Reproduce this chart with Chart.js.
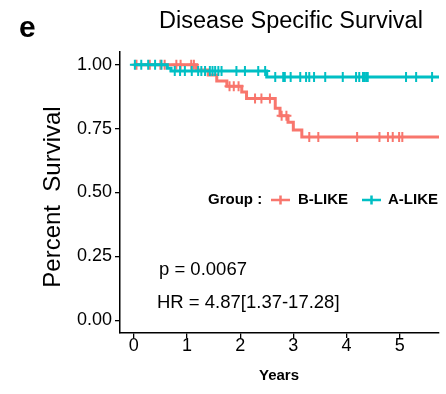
<!DOCTYPE html>
<html>
<head>
<meta charset="utf-8">
<script src="https://cdn.jsdelivr.net/npm/chart.js@4.4.0/dist/chart.umd.min.js"></script>
<style>
  html, body { margin: 0; padding: 0; background: #fff; }
  #wrap { width: 446px; height: 394px; position: relative; }
</style>
</head>
<body>
<div id="wrap"><canvas id="kmChart" width="446" height="394"></canvas></div>
<script>
// Kaplan-Meier steps (time in years, survival)
const bLikeTimes = [0, 1.18, 1.4, 1.56, 1.75, 2.03, 2.12, 2.66, 2.75, 2.9, 3.0, 3.16, 5.74];
const bLikeSurv  = [1, 0.98, 0.96, 0.936, 0.916, 0.893, 0.868, 0.83, 0.80, 0.775, 0.745, 0.717, 0.717];
const aLikeTimes = [0, 0.63, 0.7, 2.5, 5.74];
const aLikeSurv  = [1, 0.986, 0.976, 0.952, 0.952];

// censored observations (times)
const bLikeCensor = [0.05, 0.3, 0.5, 0.58, 0.8, 0.88, 1.08, 1.13, 1.8, 1.88, 1.97, 2.28, 2.4, 2.56,
    2.78, 2.87, 3.3, 3.47, 4.2, 4.62, 4.78, 4.87, 4.99, 5.05];
const aLikeCensor = [0.02, 0.14, 0.27, 0.40, 0.52, 0.77, 0.87, 0.96, 1.09, 1.21, 1.27, 1.34, 1.43,
    1.48, 1.53, 1.59, 1.65, 1.93, 2.09, 2.34, 2.47, 2.66, 2.81, 2.84, 2.95, 3.13, 3.24, 3.30, 3.39,
    3.60, 3.93, 4.18, 4.24, 4.31, 4.34, 4.37, 4.40, 5.12, 5.31, 5.61];

const xTicks = [0, 1, 2, 3, 4, 5];
const yTicks = [0, 0.25, 0.5, 0.75, 1];
const groupNames = ['B-LIKE', 'A-LIKE'];

const RED = '#F8766D';
const TEAL = '#00BFC4';
const FONT = '"Liberation Sans", Arial, Helvetica, sans-serif';

// survival level of a step curve at time t
function levelAt(times, surv, t) {
    let s = surv[0];
    for (let i = 0; i < times.length; i++) {
        if (times[i] <= t) s = surv[i];
    }
    return s;
}

function stepPoints(times, surv) {
    return times.map((t, i) => ({ x: t, y: surv[i] }));
}

function censorPoints(censor, times, surv) {
    return censor.map(t => ({ x: t, y: levelAt(times, surv, t) }));
}

// Draws title, panel letter, axis titles, legend and stats text
const annotations = {
    id: 'annotations',
    afterDraw(chart) {
        const ctx = chart.ctx;
        ctx.save();
        ctx.fillStyle = '#000';
        ctx.textBaseline = 'middle';

        ctx.font = 'bold 30px ' + FONT;
        ctx.textAlign = 'left';
        ctx.fillText('e', 19, 29);

        ctx.font = '23.5px ' + FONT;
        ctx.textAlign = 'center';
        ctx.fillText('Disease Specific Survival', 291, 22);

        ctx.font = 'bold 15px ' + FONT;
        ctx.fillText('Years', 279, 376);

        ctx.save();
        ctx.translate(53, 197);
        ctx.rotate(-Math.PI / 2);
        ctx.font = '24px ' + FONT;
        ctx.fillText('Percent  Survival', 0, 0);
        ctx.restore();

        // stats text
        ctx.font = '18.5px ' + FONT;
        ctx.textAlign = 'left';
        ctx.fillText('p = 0.0067', 159, 270);
        ctx.fillText('HR = 4.87[1.37-17.28]', 157, 303);

        // legend
        const ly = 200;
        ctx.font = 'bold 15px ' + FONT;
        ctx.fillText('Group :', 208, ly);
        const keys = [
            { x: 271, color: RED, label: groupNames[0], tx: 298 },
            { x: 362, color: TEAL, label: groupNames[1], tx: 388 }
        ];
        keys.forEach(k => {
            ctx.strokeStyle = k.color;
            ctx.lineWidth = 2.5;
            ctx.beginPath();
            ctx.moveTo(k.x, ly);
            ctx.lineTo(k.x + 19, ly);
            ctx.moveTo(k.x + 9.5, ly - 4.5);
            ctx.lineTo(k.x + 9.5, ly + 4.5);
            ctx.stroke();
            ctx.fillStyle = '#000';
            ctx.fillText(k.label, k.tx, ly);
        });
        ctx.restore();
    }
};

const ctx = document.getElementById('kmChart').getContext('2d');
new Chart(ctx, {
    type: 'line',
    data: {
        datasets: [
            {
                label: groupNames[1],
                data: stepPoints(aLikeTimes, aLikeSurv),
                borderColor: TEAL,
                borderWidth: 3,
                stepped: 'before',
                pointRadius: 0,
                fill: false,
                order: 1
            },
            {
                label: groupNames[1] + ' censored',
                data: censorPoints(aLikeCensor, aLikeTimes, aLikeSurv),
                showLine: false,
                pointStyle: 'cross',
                pointRadius: 5,
                pointBorderWidth: 2,
                borderColor: TEAL,
                pointBorderColor: TEAL,
                order: 0
            },
            {
                label: groupNames[0],
                data: stepPoints(bLikeTimes, bLikeSurv),
                borderColor: RED,
                borderWidth: 3,
                stepped: 'before',
                pointRadius: 0,
                fill: false,
                order: 3
            },
            {
                label: groupNames[0] + ' censored',
                data: censorPoints(bLikeCensor, bLikeTimes, bLikeSurv),
                showLine: false,
                pointStyle: 'cross',
                pointRadius: 5,
                pointBorderWidth: 2,
                borderColor: RED,
                pointBorderColor: RED,
                order: 2
            }
        ]
    },
    options: {
        responsive: false,
        animation: false,
        layout: { padding: { top: 52, right: 7, left: 0, bottom: 0 } },
        plugins: {
            legend: { display: false },
            tooltip: { enabled: false }
        },
        scales: {
            x: {
                type: 'linear',
                min: -0.26,
                max: 5.74,
                afterBuildTicks: axis => { axis.ticks = xTicks.map(v => ({ value: v })); },
                afterFit: axis => { axis.height = 61; },
                ticks: {
                    color: '#000',
                    font: { family: FONT, size: 18 },
                    padding: -3,
                    maxRotation: 0,
                    callback: v => String(v)
                },
                grid: {
                    drawOnChartArea: false,
                    drawTicks: true,
                    tickLength: 5,
                    color: '#000',
                    lineWidth: 1.3
                },
                border: { color: '#000', width: 1.5 }
            },
            y: {
                type: 'linear',
                min: -0.05,
                max: 1.05,
                afterBuildTicks: axis => { axis.ticks = yTicks.map(v => ({ value: v })); },
                afterFit: axis => { axis.width = 120; },
                ticks: {
                    color: '#000',
                    font: { family: FONT, size: 18 },
                    padding: 3,
                    callback: v => Number(v).toFixed(2)
                },
                grid: {
                    drawOnChartArea: false,
                    drawTicks: true,
                    tickLength: 5,
                    color: '#000',
                    lineWidth: 1.3
                },
                border: { color: '#000', width: 1.5 }
            }
        }
    },
    plugins: [annotations]
});
</script>
</body>
</html>
